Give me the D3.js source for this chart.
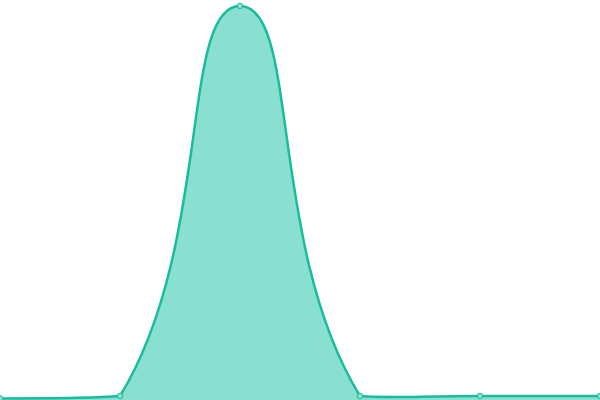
<!DOCTYPE html>
<html>
<head>
<meta charset="utf-8">
<script src="https://cdn.jsdelivr.net/npm/d3@7"></script>
<style>
  html, body { margin: 0; padding: 0; background: #fff; }
  svg { display: block; }
</style>
</head>
<body>
<svg id="chart" width="600" height="400"></svg>
<script>
"use strict"

// data
let categories = [0, 1, 2, 3, 4, 5];
let values = [0.8, 2, 200, 2, 2, 2];

let svg = d3.select("#chart");
let width = +svg.attr("width");
let height = +svg.attr("height");

let x = d3.scaleLinear()
    .domain([0, categories.length - 1])
    .range([0, width]);

let y = d3.scaleLinear()
    .domain([0, 200])
    .range([height, 6]);

let pts = categories.map(function (c, i) { return [c, values[i]]; });

// smoothing with control points kept inside the points' bounding box,
// so the flat parts stay flat and the peak does not overshoot
function SmoothCurve(context, smooth) {
    this._context = context;
    this._smooth = smooth;
}

SmoothCurve.prototype = {
    areaStart: function () { this._line = 0; },
    areaEnd: function () { this._line = NaN; },
    lineStart: function () { this._pts = []; },
    point: function (px, py) { this._pts.push([+px, +py]); },
    lineEnd: function () {
        let ctx = this._context;
        let p = this._pts;
        let n = p.length;
        if (n) {
            if (this._line) ctx.lineTo(p[0][0], p[0][1]);
            else ctx.moveTo(p[0][0], p[0][1]);
        }
        if (n > 1) {
            let minX = d3.min(p, function (d) { return d[0]; });
            let maxX = d3.max(p, function (d) { return d[0]; });
            let minY = d3.min(p, function (d) { return d[1]; });
            let maxY = d3.max(p, function (d) { return d[1]; });
            let clamp = function (c) {
                return [Math.max(minX, Math.min(maxX, c[0])), Math.max(minY, Math.min(maxY, c[1]))];
            };
            let cps = [];
            for (let i = 0; i < n; i++) {
                if (i === 0 || i === n - 1) {
                    cps.push(p[i], p[i]);
                    continue;
                }
                let prev = p[i - 1], cur = p[i], next = p[i + 1];
                let vx = (next[0] - prev[0]) * this._smooth;
                let vy = (next[1] - prev[1]) * this._smooth;
                let d0 = Math.hypot(cur[0] - prev[0], cur[1] - prev[1]);
                let d1 = Math.hypot(next[0] - cur[0], next[1] - cur[1]);
                let sum = d0 + d1;
                if (sum !== 0) { d0 /= sum; d1 /= sum; }
                cps.push(clamp([cur[0] - vx * d0, cur[1] - vy * d0]));
                cps.push(clamp([cur[0] + vx * d1, cur[1] + vy * d1]));
            }
            for (let i = 0; i < n - 1; i++) {
                let c1 = cps[2 * i + 1], c2 = cps[2 * i + 2];
                ctx.bezierCurveTo(c1[0], c1[1], c2[0], c2[1], p[i + 1][0], p[i + 1][1]);
            }
        }
        if (this._line || (this._line !== 0 && n === 1)) ctx.closePath();
        this._line = 1 - this._line;
    }
};

function curveSmooth(context) { return new SmoothCurve(context, 0.5); }

let area = d3.area()
    .curve(curveSmooth)
    .x(function (d) { return x(d[0]); })
    .y0(y(0))
    .y1(function (d) { return y(d[1]); });

let line = d3.line()
    .curve(curveSmooth)
    .x(function (d) { return x(d[0]); })
    .y(function (d) { return y(d[1]); });

svg.append("path")
    .datum(pts)
    .attr("d", area)
    .attr("fill", "#8ae0d0");

svg.append("path")
    .datum(pts)
    .attr("d", line)
    .attr("fill", "none")
    .attr("stroke", "#1abc9c")
    .attr("stroke-width", 2.5);

svg.selectAll(".dot")
    .data(pts)
    .enter().append("circle")
    .attr("class", "dot")
    .attr("cx", function (d) { return x(d[0]); })
    .attr("cy", function (d) { return y(d[1]); })
    .attr("r", 2.8)
    .attr("fill", "#8ae0d0")
    .attr("stroke", "#1abc9c")
    .attr("stroke-width", 1);
</script>
</body>
</html>
